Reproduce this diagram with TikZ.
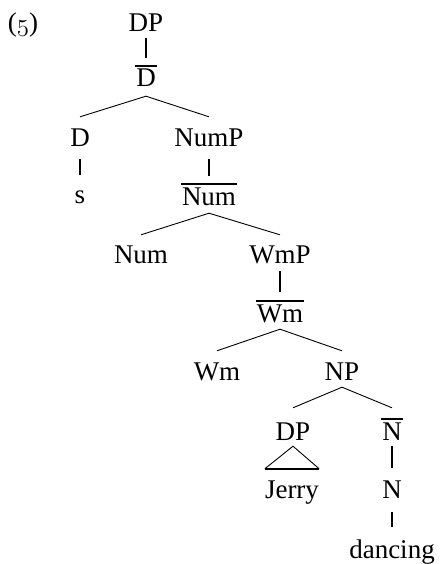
\documentclass[tikz,border=0pt]{standalone}
\usepackage{fontspec}
\setmainfont{Liberation Serif}
\newcommand\ob[1]{\vbox{\hrule height 2.3pt\kern 2.3pt\hbox{\kern1pt#1\kern1pt}}}
\begin{document}
\begin{tikzpicture}[x=1pt,y=-1pt,
  lbl/.style={inner sep=0pt, text height=18pt, text depth=0pt, anchor=base, font=\fontsize{27}{32}\selectfont},
  br/.style={line width=0.9pt},
  un/.style={line width=2.8pt},
  unthin/.style={line width=1.6pt},
]
\useasboundingbox (0,0) rectangle (440,564);
\node[lbl] (ex) at (23,32) {({\usefont{OML}{cmm}{m}{it}5})};
\node[lbl] (dp1) at (146,32) {DP};
\node[lbl] (dbar) at (146,87) {\ob{D}};
\node[lbl] (d) at (80,147) {D};
\node[lbl] (nump) at (209,147) {NumP};
\node[lbl] (s) at (80,203) {s};
\node[lbl] (numbar) at (209,205) {\ob{Num}};
\node[lbl] (num) at (141,263) {Num};
\node[lbl] (wmp) at (280,263) {WmP};
\node[lbl] (wmbar) at (280,322) {\ob{Wm}};
\node[lbl] (wm) at (217,380) {Wm};
\node[lbl] (np) at (342,380) {NP};
\node[lbl] (dp2) at (293,440) {DP};
\node[lbl] (nbar) at (392,440) {\ob{N}};
\node[lbl] (jerry) at (292,498) {Jerry};
\node[lbl] (n) at (392,498) {N};
\node[lbl] (dancing) at (392,558) {dancing};

\draw[un] ([yshift=-6pt]dp1.south) -- ([yshift=11pt]dbar.north);
\draw[br] ([yshift=12pt]d.north) -- ([yshift=-9pt]dbar.south) -- ([yshift=12pt]nump.north);
\draw[un] ([yshift=-12pt]d.south) -- ([yshift=10pt]s.north);
\draw[un] ([yshift=-12pt]nump.south) -- ([yshift=11pt]numbar.north);
\draw[br] ([yshift=10pt]num.north) -- ([yshift=-8pt]numbar.south) -- ([yshift=10pt]wmp.north);
\draw[un] ([yshift=-8pt]wmp.south) -- ([yshift=12pt]wmbar.north);
\draw[br] ([yshift=11pt]wm.north) -- ([yshift=-7pt]wmbar.south) -- ([yshift=11pt]np.north);
\draw[br] ([yshift=14pt]dp2.north) -- ([yshift=-7pt]np.south) -- ([yshift=14pt]nbar.north);
\draw[br] ([yshift=11pt]jerry.north west) -- ([yshift=-6pt]dp2.south) -- ([yshift=11pt]jerry.north east);
\draw[un,line width=2.3pt] ([yshift=11pt]jerry.north west) -- ([yshift=11pt]jerry.north east);
\draw[unthin] ([yshift=-6pt]nbar.south) -- ([yshift=12pt]n.north);
\draw[unthin] ([yshift=-14pt]n.south) -- ([yshift=13pt]dancing.north);
\end{tikzpicture}
\end{document}
